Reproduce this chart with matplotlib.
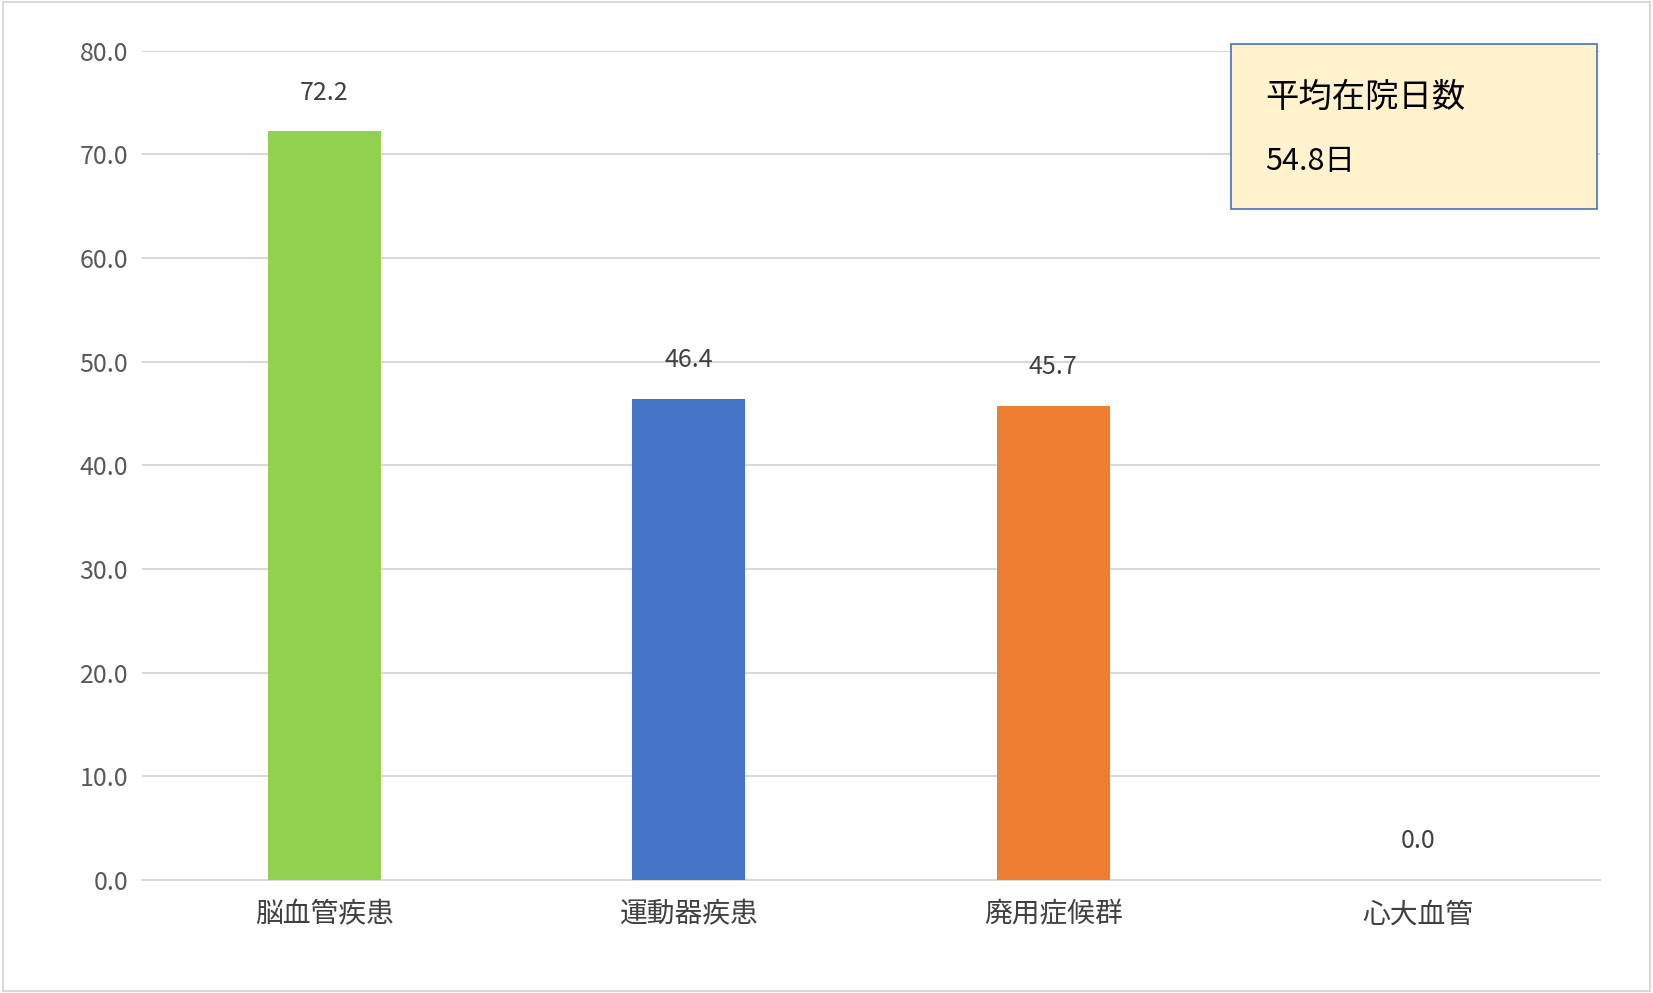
import matplotlib
matplotlib.use("Agg")
import matplotlib.pyplot as plt
from matplotlib.patches import Rectangle

plt.rcParams['font.family'] = ['Noto Sans CJK JP', 'DejaVu Sans']

categories = ['脳血管疾患', '運動器疾患', '廃用症候群', '心大血管']
values = [72.2, 46.4, 45.7, 0.0]
colors = ['#92D050', '#4472C4', '#ED7D31', '#A5A5A5']
yticks = [0, 10, 20, 30, 40, 50, 60, 70, 80]
box_title = '平均在院日数'
box_value = '54.8日'

fig = plt.figure(figsize=(16.53, 9.93), dpi=100)
fig.patches.append(Rectangle((0.002, 0.002), 0.996, 0.996, transform=fig.transFigure,
                             fill=False, edgecolor='#D9D9D9', linewidth=1.5))
ax = fig.add_axes([0.086, 0.114, 0.882, 0.835])
x = range(len(categories))
ax.bar(x, values, width=0.31, color=colors, zorder=3)
for i, v in zip(x, values):
    ax.text(i, v + 2.5, f'{v:.1f}', ha='center', va='bottom', fontsize=18, color='#404040')
ax.set_ylim(0, 80)
ax.set_xlim(-0.5, 3.5)
ax.set_yticks(yticks)
ax.set_yticklabels([f'{t:.1f}' for t in yticks], fontsize=18, color='#595959')
ax.set_xticks(list(x))
ax.set_xticklabels(categories, fontsize=20, color='#404040')
ax.grid(axis='y', color='#D9D9D9', linewidth=1.5, zorder=0)
for s in ['top', 'right', 'left']:
    ax.spines[s].set_visible(False)
ax.spines['bottom'].set_color('#D9D9D9')
ax.spines['bottom'].set_linewidth(1.5)
ax.tick_params(length=0, pad=10)
ax.tick_params(axis='x', pad=14)

# text box
bx0, by0, bx1, by1 = 1168/1568, 1-198/942, 1515/1568, 1-42/942
fig.patches.append(Rectangle((bx0, by0), bx1-bx0, by1-by0, transform=fig.transFigure,
                             facecolor='#FFF2CC', edgecolor='#4472C4', linewidth=1.2, zorder=5))
fig.text(1200/1568, 1-92/942, box_title, fontsize=24, va='center', ha='left', zorder=6)
fig.text(1200/1568, 1-153/942, box_value, fontsize=22, va='center', ha='left', zorder=6)

fig.savefig('out.png', dpi=100)
